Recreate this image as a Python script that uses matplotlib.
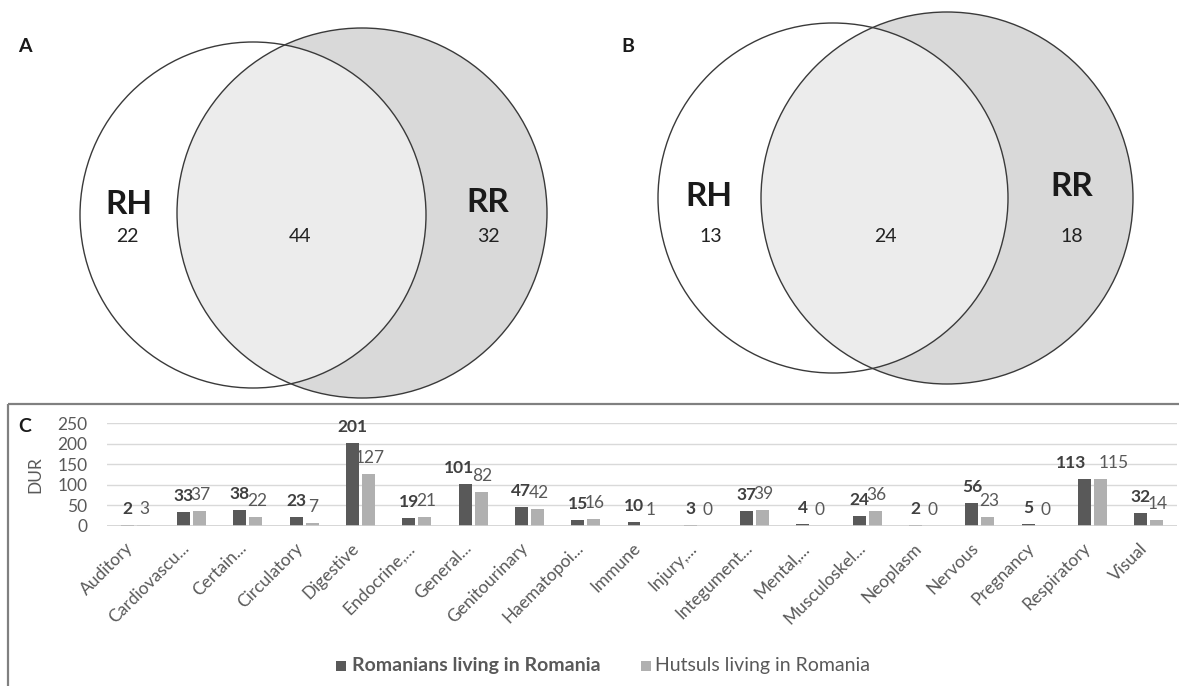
import matplotlib
matplotlib.use("Agg")
import matplotlib.pyplot as plt
from matplotlib.patches import Circle, Rectangle
from matplotlib.transforms import ScaledTranslation
import numpy as np

plt.rcParams['font.family'] = ['Lato', 'DejaVu Sans']

# ---------------- data ----------------
venn_a_labels = ["RH", "RR"]
venn_a_counts = [22, 44, 32]       # RH only, shared, RR only
venn_b_counts = [13, 24, 18]

categories = ["Auditory", "Cardiovascu...", "Certain...", "Circulatory", "Digestive",
              "Endocrine,...", "General...", "Genitourinary", "Haematopoi...", "Immune",
              "Injury,...", "Integument...", "Mental,...", "Musculoskel...", "Neoplasm",
              "Nervous", "Pregnancy", "Respiratory", "Visual"]
romanians = [2, 33, 38, 23, 201, 19, 101, 47, 15, 10, 3, 37, 4, 24, 2, 56, 5, 113, 32]
hutsuls = [3, 37, 22, 7, 127, 21, 82, 42, 16, 1, 0, 39, 0, 36, 0, 23, 0, 115, 14]
yticks = [0, 50, 100, 150, 200, 250]
series_names = ["Romanians living in Romania", "Hutsuls living in Romania"]

W, H = 1179, 686
fig = plt.figure(figsize=(W / 100, H / 100), dpi=100)

# ---------------- Venn diagrams (pixel-coordinate axes) ----------------
vax = fig.add_axes([0, 0, 1, 1])
vax.set_xlim(0, W)
vax.set_ylim(H, 0)
vax.axis("off")

edge = "#3a3a3a"

def venn(c1, r1, c2, r2, counts, pos):
    big = Circle(c2, r2, facecolor="#d9d9d9", edgecolor="none", zorder=1)
    vax.add_patch(big)
    clip = Circle(c2, r2, transform=vax.transData, facecolor="none", edgecolor="none")
    vax.add_patch(clip)
    inter = Circle(c1, r1, facecolor="#ececec", edgecolor="none", zorder=2)
    vax.add_patch(inter)
    inter.set_clip_path(clip)
    vax.add_patch(Circle(c1, r1, facecolor="none", edgecolor=edge, lw=1.0, zorder=3))
    vax.add_patch(Circle(c2, r2, facecolor="none", edgecolor=edge, lw=1.0, zorder=3))
    (rhx, rhy), (rh_nx, rh_ny), (mx, my), (rrx, rry), (rr_nx, rr_ny) = pos
    vax.text(rhx, rhy, venn_a_labels[0], fontsize=24, fontweight="bold", color="#1a1a1a",
             ha="center", va="center", zorder=4)
    vax.text(rrx, rry, venn_a_labels[1], fontsize=24, fontweight="bold", color="#1a1a1a",
             ha="center", va="center", zorder=4)
    vax.text(rh_nx, rh_ny, str(counts[0]), fontsize=14, color="#222222", ha="center", va="center", zorder=4)
    vax.text(mx, my, str(counts[1]), fontsize=14, color="#222222", ha="center", va="center", zorder=4)
    vax.text(rr_nx, rr_ny, str(counts[2]), fontsize=14, color="#222222", ha="center", va="center", zorder=4)

venn((253, 215), 173, (362, 213), 185, venn_a_counts,
     [(129, 205), (127, 236), (300, 236), (488, 203), (488, 236)])
venn((833, 198), 175, (947, 198), 186, venn_b_counts,
     [(709, 197), (711, 236), (885, 236), (1072, 186), (1072, 236)])

vax.text(25, 46, "A", fontsize=14, fontweight="bold", color="#1a1a1a", ha="center", va="center")
vax.text(628, 46, "B", fontsize=14, fontweight="bold", color="#1a1a1a", ha="center", va="center")

# panel C border
vax.plot([8, 8], [H + 5, 404], color="#808080", lw=1.6, solid_capstyle="butt", zorder=5)
vax.plot([8, W + 5], [404, 404], color="#808080", lw=1.6, solid_capstyle="butt", zorder=5)
vax.text(25, 426, "C", fontsize=14, fontweight="bold", color="#1a1a1a", ha="center", va="center")

# legend
vax.add_patch(Rectangle((336, 661), 10, 10, facecolor="#595959", edgecolor="none"))
vax.text(352, 666, series_names[0], fontsize=14, fontweight="bold", color="#595959",
         ha="left", va="center")
vax.add_patch(Rectangle((641, 661), 10, 10, facecolor="#b0b0b0", edgecolor="none"))
vax.text(655, 666, series_names[1], fontsize=14, color="#595959", ha="left", va="center")

# ---------------- bar chart ----------------
left_px, right_px = 107, 1177
y0_px, y250_px = 526, 423
bax = fig.add_axes([left_px / W, (H - y0_px) / H, (right_px - left_px) / W, (y0_px - y250_px) / H])
bax.set_facecolor("none")
x = np.arange(len(categories))
bw = 0.23
off = 0.142
bax.bar(x - off, romanians, width=bw, color="#595959", zorder=3)
bax.bar(x + off, hutsuls, width=bw, color="#b0b0b0", zorder=3)
bax.set_xlim(-0.5, len(categories) - 0.5)
bax.set_ylim(0, 250)
bax.set_yticks(yticks)
bax.set_yticklabels([str(t) for t in yticks])
for s in bax.spines.values():
    s.set_visible(False)
bax.tick_params(axis="both", length=0)
bax.tick_params(axis="y", labelsize=12.5, labelcolor="#595959", pad=14)
for t in yticks[1:]:
    bax.axhline(t, color="#d9d9d9", lw=1, zorder=1)
bax.axhline(0, color="#d0d0d0", lw=1.2, zorder=4)
bax.set_ylabel("DUR", fontsize=12.5, color="#595959")
bax.yaxis.set_label_coords(-0.059, 0.5)

bax.set_xticks(x)
bax.set_xticklabels(categories, rotation=45, ha="right", rotation_mode="anchor",
                    fontsize=12.5, color="#595959")
bax.tick_params(axis="x", pad=10)
shift = ScaledTranslation(-10 / 100, 0, fig.dpi_scale_trans)
for lab in bax.get_xticklabels():
    lab.set_transform(lab.get_transform() + shift)

# label nudges (pixels) where the labels would collide
dark_nudge = {6: -6, 17: -13}
light_nudge = {17: 12}
px2pt = 72 / 100
for i, v in enumerate(romanians):
    bax.annotate(str(v), (x[i] - off, v), xytext=(dark_nudge.get(i, 0) * px2pt, 11 * px2pt),
                 textcoords="offset points", ha="center", va="baseline", fontsize=12.5,
                 fontweight="bold", color="#404040", annotation_clip=False, zorder=5)
for i, v in enumerate(hutsuls):
    bax.annotate(str(v), (x[i] + off, v), xytext=((light_nudge.get(i, 0) + 1) * px2pt, 11 * px2pt),
                 textcoords="offset points", ha="center", va="baseline", fontsize=12.5,
                 color="#595959", annotation_clip=False, zorder=5)

fig.savefig("out.png", dpi=100)
